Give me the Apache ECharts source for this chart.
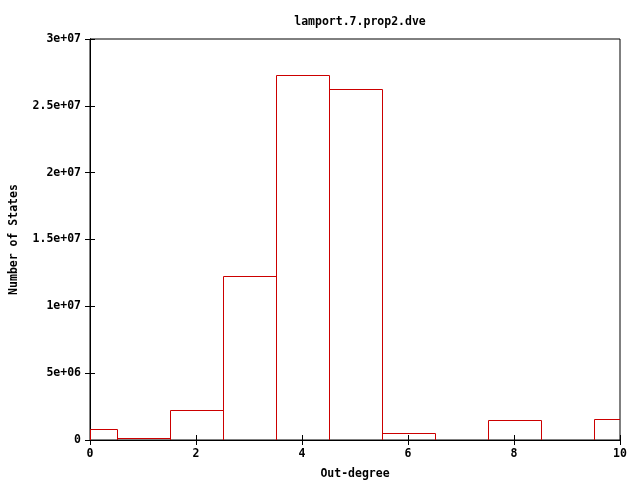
<!DOCTYPE html>
<html>
<head>
<meta charset="utf-8">
<script src="https://cdn.jsdelivr.net/npm/echarts@6/dist/echarts.min.js"></script>
<style>html,body{margin:0;padding:0;background:#fff}#c{width:640px;height:480px}</style>
</head>
<body>
<div id="c"></div>
<script>
var outDegree = [0, 1, 2, 3, 4, 5, 6, 7, 8, 9, 10];
var numStates = [820000, 130000, 2220000, 12250000, 27280000, 26280000, 500000, 0, 1470000, 0, 1550000];
var xTicks = [0, 2, 4, 6, 8, 10];
var yTicks = [0, 5e6, 1e7, 1.5e7, 2e7, 2.5e7, 3e7];

function fmtY(v) {
  if (v === 0) return '0';
  var e = Math.floor(Math.log10(v));
  var m = v / Math.pow(10, e);
  m = Math.round(m * 100) / 100;
  return m + 'e+' + (e < 10 ? '0' + e : e);
}

var font = 'DejaVu Sans Mono';
var fs = 11.5;
var chart = echarts.init(document.getElementById('c'));
var data = outDegree.map(function (d, i) { return [d, numStates[i]]; });

chart.setOption({
  animation: false,
  backgroundColor: '#fff',
  title: {
    text: 'lamport.7.prop2.dve',
    left: 355, top: 11, textAlign: 'center',
    textStyle: { fontFamily: font, fontSize: fs, fontWeight: 'bold', color: '#000' }
  },
  grid: { left: 90, right: 20, top: 39, bottom: 40, show: true, borderColor: '#000', borderWidth: 1, outerBoundsMode: 'none', containLabel: false },
  xAxis: [{
    type: 'value', min: 0, max: 10, interval: 2, position: 'bottom',
    name: 'Out-degree', nameLocation: 'middle', nameGap: 28,
    nameTextStyle: { fontFamily: font, fontSize: fs, fontWeight: 'bold', color: '#000' },
    axisLine: { show: true, lineStyle: { color: '#000' } },
    axisTick: { show: true, inside: true, length: 5, lineStyle: { color: '#000' } },
    axisLabel: { fontFamily: font, fontSize: fs, fontWeight: 'bold', color: '#000', margin: 8 },
    splitLine: { show: false }
  }, {
    type: 'value', min: 0, max: 10, interval: 2, position: 'top',
    axisLine: { show: true, lineStyle: { color: '#000' } },
    axisTick: { show: true, inside: true, length: 5, lineStyle: { color: '#000' } },
    axisLabel: { show: false }, splitLine: { show: false }
  }],
  yAxis: [{
    type: 'value', min: 0, max: 3e7, interval: 5e6, position: 'left',
    name: 'Number of States', nameLocation: 'middle', nameGap: 70, nameRotate: 90,
    nameTextStyle: { fontFamily: font, fontSize: fs, fontWeight: 'bold', color: '#000' },
    axisLine: { show: true, lineStyle: { color: '#000' } },
    axisTick: { show: true, inside: true, length: 5, lineStyle: { color: '#000' } },
    axisLabel: { fontFamily: font, fontSize: fs, fontWeight: 'bold', color: '#000', margin: 9, formatter: fmtY },
    splitLine: { show: false }
  }, {
    type: 'value', min: 0, max: 3e7, interval: 5e6, position: 'right',
    axisLine: { show: true, lineStyle: { color: '#000' } },
    axisTick: { show: true, inside: true, length: 5, lineStyle: { color: '#000' } },
    axisLabel: { show: false }, splitLine: { show: false }
  }],
  series: [{
    type: 'custom',
    xAxisIndex: 0, yAxisIndex: 0,
    clip: true,
    data: data,
    renderItem: function (params, api) {
      var x = api.value(0), y = api.value(1);
      if (!y) return;
      var p0 = api.coord([x - 0.5, y]);
      var p1 = api.coord([x + 0.5, 0]);
      var cs = params.coordSys;
      var x0 = Math.max(p0[0], cs.x), x1 = Math.min(p1[0], cs.x + cs.width);
      var points = [[x0, p1[1]], [x0, p0[1]], [x1, p0[1]], [x1, p1[1]]];
      return {
        type: 'polyline',
        shape: { points: points.map(function (p) { return [Math.round(p[0]) + 0.5, Math.round(p[1]) + 0.5]; }) },
        style: { stroke: '#cc0000', lineWidth: 1, fill: null }
      };
    }
  }]
});
</script>
</body>
</html>
